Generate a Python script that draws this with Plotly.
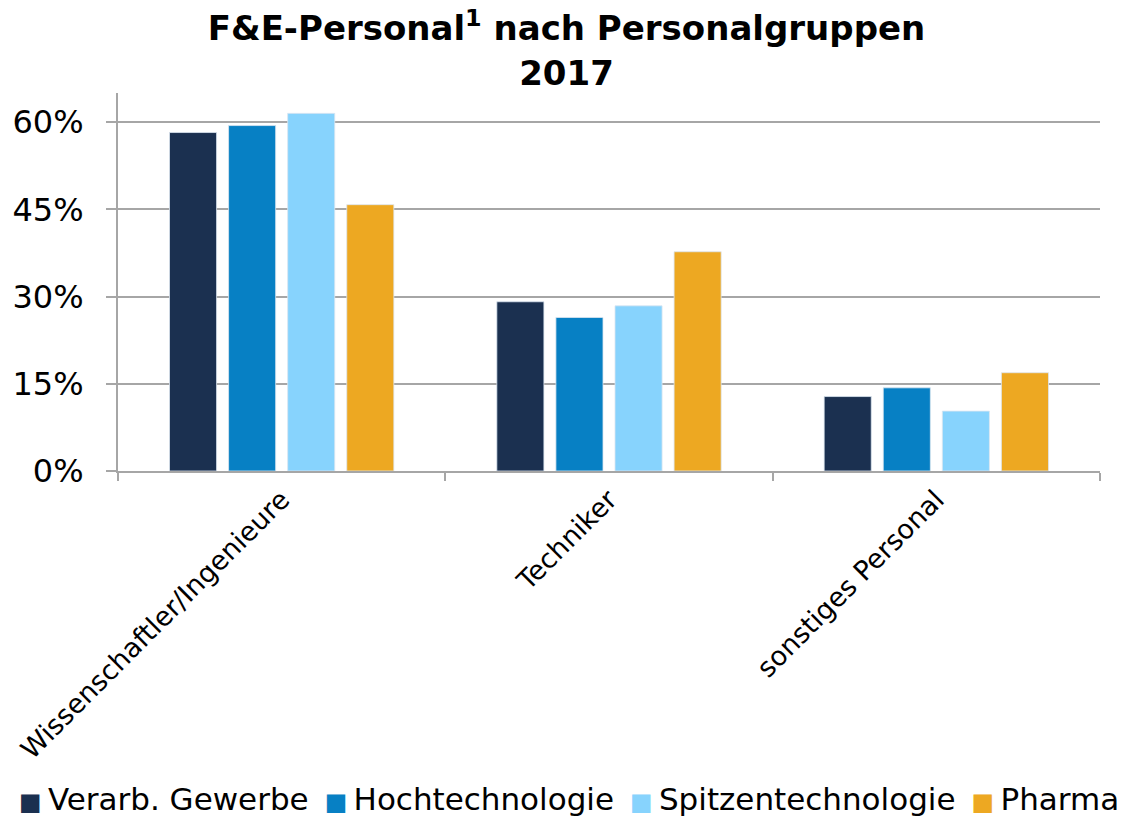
import plotly.graph_objects as go

categories = ["Wissenschaftler/Ingenieure", "Techniker", "sonstiges Personal"]
series_names = ["Verarb. Gewerbe", "Hochtechnologie", "Spitzentechnologie", "Pharma"]
verarb = [58.2, 29.1, 12.8]
hochtech = [59.4, 26.4, 14.3]
spitzen = [61.5, 28.4, 10.3]
pharma = [45.8, 37.7, 16.9]
values = [verarb, hochtech, spitzen, pharma]
colors = ["#1B3050", "#0780C4", "#87D3FD", "#EDA822"]
y_ticks = [0, 15, 30, 45, 60]
y_tick_labels = ["0%", "15%", "30%", "45%", "60%"]

fig = go.Figure()
for name, vals, col in zip(series_names, values, colors):
    fig.add_trace(go.Bar(
        x=categories, y=vals, name=name, showlegend=False,
        marker=dict(color=col, line=dict(color="rgba(220,230,240,0.8)", width=1)),
    ))

# legend drawn as one rich-text line (colored squares + names)
legend_text = " \u2009".join(
    f"<span style='color:{c};font-size:24px'>■</span>\u2009{n}" for n, c in zip(series_names, colors)
)

# page body has an 8px margin: figure spans 8..1125 x 8..819
fig.update_layout(
    width=1117, height=811,
    paper_bgcolor="white", plot_bgcolor="white",
    font=dict(family="DejaVu Sans", color="#000000"),
    margin=dict(l=110, r=25, t=85, b=348),
    barmode="group", bargap=0.278, bargroupgap=0.203,
    title=dict(
        text="<b>F&E-Personal<sup>1</sup> nach Personalgruppen<br>2017</b>",
        x=0.5, xanchor="center", xref="container",
        y=0.960, yanchor="middle", yref="container",
        font=dict(family="DejaVu Sans", size=34, color="#000000"),
    ),
    annotations=[dict(
        text=legend_text, xref="paper", yref="paper",
        x=0.4588, xanchor="center",
        y=-0.868, yanchor="middle",
        showarrow=False, font=dict(family="DejaVu Sans", size=31, color="#000000"),
    )],
)
fig.update_yaxes(
    range=[0, 65], tickvals=y_ticks, ticktext=y_tick_labels,
    showgrid=True, gridcolor="#A6A6A6", gridwidth=2,
    showline=True, linecolor="#A6A6A6", linewidth=2,
    ticks="outside", ticklen=10, tickcolor="#A6A6A6", tickwidth=2,
    tickfont=dict(size=32), zeroline=False, ticklabelstandoff=16,
    automargin=False,
)
fig.update_xaxes(
    showline=True, linecolor="#A6A6A6", linewidth=2,
    ticks="outside", tickson="boundaries", ticklen=8, tickcolor="#A6A6A6", tickwidth=2,
    tickangle=-45, tickfont=dict(size=27), showgrid=False,
    automargin=False,
)

fig.write_html("out.html")
